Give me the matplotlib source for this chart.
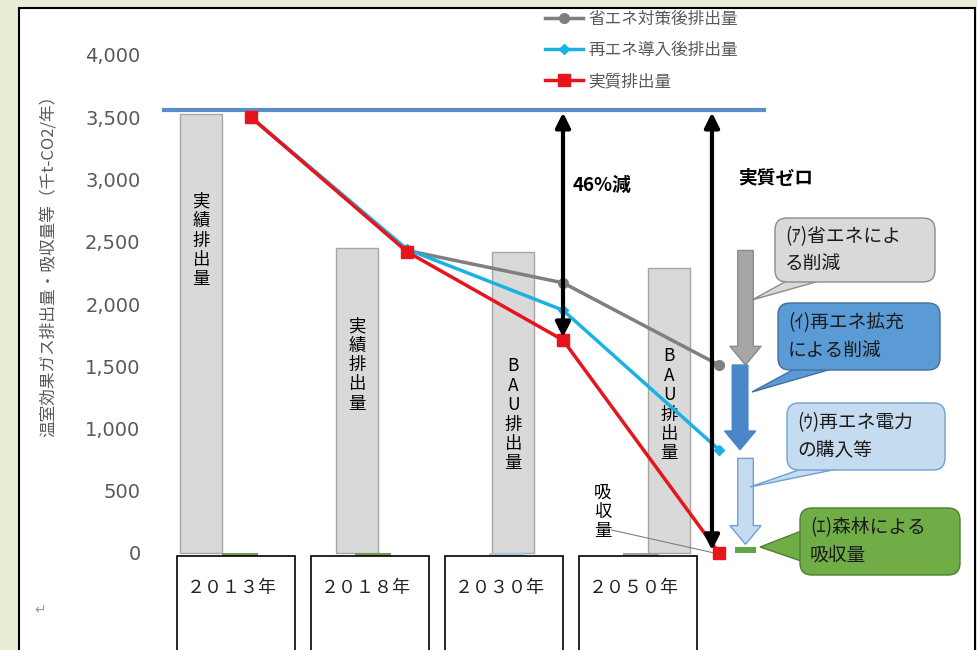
import matplotlib.pyplot as plt
import numpy as np
from matplotlib.patches import Rectangle, FancyBboxPatch, Polygon, FancyArrow

plt.rcParams['font.family'] = ['Noto Sans CJK JP', 'DejaVu Sans']

# data
years = ['２０１３年', '２０１８年', '２０３０年', '２０５０年']
bar_vals = [3530, 2450, 2420, 2290]
bar_text = ['実績排出量', '実績排出量', 'BAU排出量', 'BAU排出量']
bar_text_y = [2510, 1510, 1110, 1190]
absorb_x = [-0.07, 0.78, 1.64, 2.50]
absorb_vals = [-40, -40, -40, -40]
absorb_cols = ['#6f9a5a', '#6f9a5a', '#a9c9e6', '#9aa79a']
shoene = [3500, 2430, 2170, 1510]
saiene = [3500, 2440, 1950, 830]
jisshitsu = [3500, 2420, 1710, 0]
base_line = 3560
yticks = np.arange(0, 4001, 500)

W, H = 977, 650
fig = plt.figure(figsize=(W / 100, H / 100), dpi=100, facecolor='#e9edd3')

# background page
bg = fig.add_axes([0, 0, 1, 1], zorder=0)
bg.set_xlim(0, W)
bg.set_ylim(H, 0)
bg.axis('off')
bg.add_patch(Rectangle((19, 8), 956, 660, facecolor='white', edgecolor='black', lw=1.5))
bg.text(40, 610, '↵', color='#999999', fontsize=10, ha='center', va='center')

# main chart axes (pixel box 160..775 x 30..560)
ax = fig.add_axes([160 / W, (H - 560) / H, 615 / W, 530 / H], zorder=1)
ax.patch.set_alpha(0)
ax.set_xlim((160 - 251) / 156, (775 - 251) / 156)
ax.set_ylim(-(560 - 553) / 0.1245, (553 - 30) / 0.1245)
for s in ax.spines.values():
    s.set_visible(False)
ax.set_xticks([])
ax.set_yticks(yticks)
ax.set_yticklabels([f'{v:,}' for v in yticks], color='#595959', fontsize=14, family='DejaVu Sans')
ax.tick_params(axis='y', length=0, pad=14)

x = np.arange(len(years))
ax.bar(x - 0.32, bar_vals, width=0.27, color='#d9d9d9', edgecolor='#a6a6a6', lw=1)
ax.bar(absorb_x, absorb_vals, width=0.23, color=absorb_cols, edgecolor='none')
for i in range(len(years)):
    ax.text(x[i] - 0.32, bar_text_y[i], '\n'.join(bar_text[i]), ha='center', va='center',
            fontsize=12.5, linespacing=1.1, color='black')

ax.plot([-0.56, 3.29], [base_line, base_line], color='#5b8dc8', lw=3, zorder=2)

ax.plot(x, shoene, color='#7f7f7f', lw=2.5, marker='o', ms=7, label='省エネ対策後排出量', zorder=3)
ax.plot(x, saiene, color='#1ab2e3', lw=2.5, marker='D', ms=5, label='再エネ導入後排出量', zorder=4)
ax.plot(x, jisshitsu, color='#e8141c', lw=2.5, marker='s', ms=9, label='実質排出量', zorder=5)

# double arrows
ax.annotate('', xy=(2.0, jisshitsu[2]), xytext=(2.0, base_line),
            arrowprops=dict(arrowstyle='<|-|>', color='black', lw=3, mutation_scale=22), zorder=6)
ax.annotate('', xy=(2.955, jisshitsu[3]), xytext=(2.955, base_line),
            arrowprops=dict(arrowstyle='<|-|>', color='black', lw=3, mutation_scale=22), zorder=6)
ax.text(2.06, 2950, '46%減', fontsize=13.5, fontweight='bold', va='center', zorder=7)
ax.text(3.12, 3010, '実質ゼロ', fontsize=13.5, fontweight='bold', va='center', zorder=7)

# block arrows for each reduction step
steps = [
    (3.17, shoene[1], shoene[3], '#a6a6a6', '#8c8c8c'),
    (3.135, shoene[3], saiene[3], '#4a86c8', '#4a86c8'),
    (3.17, saiene[3] - 70, 70, '#c5dcf0', '#6f9fd0'),
]
for xc, y0, y1, fc, ec in steps:
    ax.add_patch(FancyArrow(xc, y0, 0, y1 - y0, width=0.10, head_width=0.20,
                            head_length=150, length_includes_head=True,
                            facecolor=fc, edgecolor=ec, lw=1, clip_on=False, zorder=3))
ax.add_patch(Rectangle((3.10, 0), 0.14, 50, facecolor='#5fa644', edgecolor='none', zorder=3))

# absorption label
ax.text(2.256, 330, '吸\n収\n量', ha='center', va='center', fontsize=12.5,
        linespacing=1.1, zorder=7)
ax.plot([2.31, 2.97], [185, 0], color='#7f7f7f', lw=0.8, zorder=2)

leg = ax.legend(loc='upper left', bbox_to_anchor=(538 / W, 1 - 4 / H), bbox_transform=fig.transFigure,
                frameon=False, fontsize=12, labelspacing=0.85, handlelength=2.3,
                handletextpad=0.3, borderaxespad=0)
for t in leg.get_texts():
    t.set_color('#595959')

fig.text(48 / W, 1 - 262 / H, '温室効果ガス排出量・吸収量等（千t-CO2/年）', rotation=90,
         ha='center', va='center', fontsize=12, color='#595959')

# foreground: category boxes and callouts
fg = fig.add_axes([0, 0, 1, 1], zorder=2)
fg.set_xlim(0, W)
fg.set_ylim(H, 0)
fg.axis('off')
box_left = [177, 311, 445, 579]
for bx, lab in zip(box_left, years):
    fg.add_patch(Rectangle((bx, 556), 118, 120, facecolor='white', edgecolor='black', lw=1.2))
    fg.text(bx + 10, 588, lab, fontsize=13, va='center', ha='left', color='#222222')

callouts = [
    ((775, 218, 160, 64), [(792, 278), (752, 300), (830, 278)], '#d9d9d9', '#8c8c8c', '(ｱ)省エネによ\nる削減'),
    ((778, 303, 162, 67), [(800, 366), (752, 392), (842, 366)], '#5b9bd5', '#41719c', '(ｲ)再エネ拡充\nによる削減'),
    ((787, 403, 158, 67), [(810, 466), (750, 487), (852, 466)], '#c5dcf0', '#6f9fd0', '(ｳ)再エネ電力\nの購入等'),
    ((800, 508, 160, 67), [(804, 530), (760, 547), (804, 562)], '#70ad47', '#507e32', '(ｴ)森林による\n吸収量'),
]
for (bx, by, bw, bh), tri, fc, ec, txt in callouts:
    fg.add_patch(Polygon(tri, closed=True, facecolor=fc, edgecolor=ec, lw=1))
    fg.add_patch(FancyBboxPatch((bx, by), bw, bh, boxstyle='round,pad=0,rounding_size=12',
                                facecolor=fc, edgecolor=ec, lw=1))
    fg.text(bx + 10, by + bh / 2, txt, fontsize=13.5, va='center', ha='left',
            linespacing=1.4, color='#1a1a1a')

fig.savefig('out.png', dpi=100, facecolor=fig.get_facecolor())
